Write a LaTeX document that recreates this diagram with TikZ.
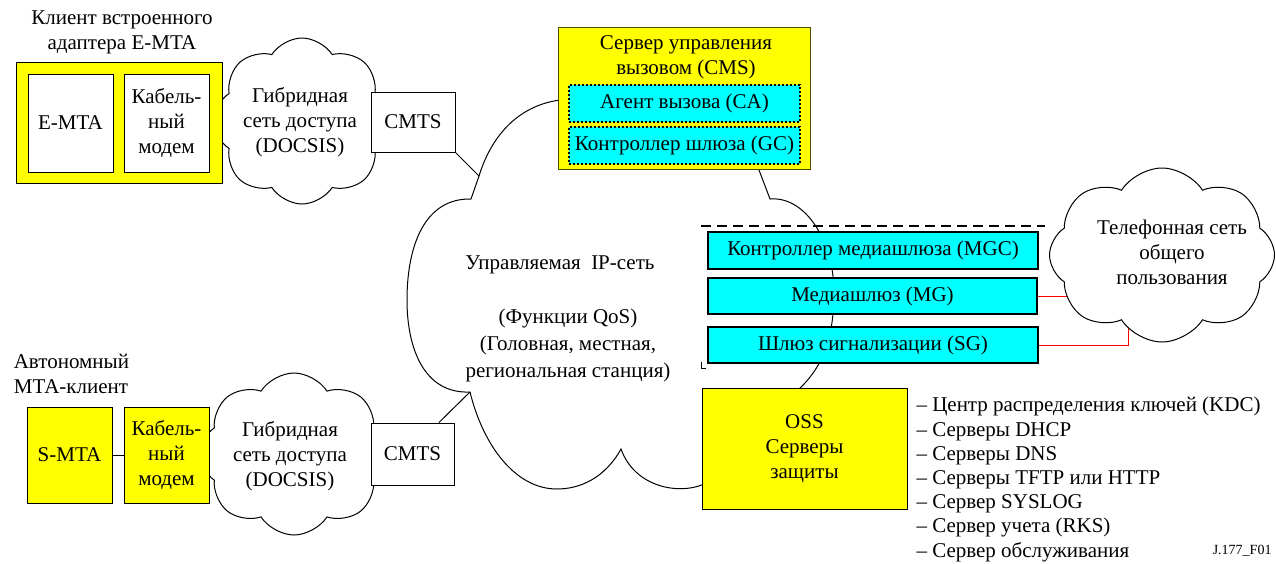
\documentclass[tikz,border=0pt]{standalone}
\usepackage{fontspec}
\setmainfont{Liberation Serif}
\usetikzlibrary{shapes.symbols}

\definecolor{boxyellow}{RGB}{255,255,0}
\definecolor{boxcyan}{RGB}{0,255,255}
\definecolor{tfred}{RGB}{255,0,0}

\tikzset{
  box/.style={draw, fill=white, line width=1pt, inner sep=0pt, align=center},
  ybox/.style={box, fill=boxyellow},
  cbox/.style={box, fill=boxcyan, line width=1.6pt},
  dbox/.style={box, fill=boxcyan, line width=1.4pt, dash pattern=on 2pt off 2pt},
  hfc/.style={cloud, draw, fill=white, line width=1pt, cloud puffs=8, cloud puff arc=115, aspect=1.05, inner sep=0pt},
}

\begin{document}
\begin{tikzpicture}[x=1pt, y=-1pt, line width=1pt, every node/.style={font=\fontsize{21}{25}\selectfont}]
\useasboundingbox (0,0) rectangle (1276,563);

\coordinate (ip1) at (479,176);
\coordinate (ip2) at (470,392);
\draw (471,199) -- (ip1) .. controls (490,140) and (515,106) .. (560,100) -- (700,60) -- (759,170)
  -- (770,199) .. controls (805,196) and (833,240) .. (834,290) .. controls (834,335) and (825,365) .. (798,390)
  -- (750,440) -- (704,484) .. controls (680,495) and (635,488) .. (621,449)
  .. controls (605,478) and (580,489) .. (557,489) .. controls (515,489) and (483,445) .. (ip2)
  .. controls (425,394) and (407,350) .. (407,300) .. controls (407,245) and (425,198) .. (471,199);
\node (IPt) at (560,265) {Управляемая\ \ IP-сеть};
\node (IPq) at (568,345) [align=center, font=\fontsize{21}{27}\selectfont] {(Функции QoS)\\(Головная, местная,\\региональная станция)};

\node (CL1) at (122,32.5) [align=center] {Клиент встроенного\\адаптера E-MTA};
\node (HFC1) at (302,121) [hfc, minimum width=176pt, minimum height=166pt] {};
\node (HFC1t) at (300,122) [align=center] {Гибридная\\сеть доступа\\(DOCSIS)};
\node (EC) at (119,122.5) [ybox, minimum width=206pt, minimum height=121pt] {};
\node (EMTA) at (70.5,123) [box, minimum width=85pt, minimum height=98pt] {E-MTA};
\node (CM1) at (166.5,123) [box, minimum width=85pt, minimum height=98pt] {Кабель-\\ный\\модем};
\node (CMTS1) at (413,122) [box, minimum width=84pt, minimum height=60pt] {CMTS};
\draw (CMTS1.south east) to (ip1);

\node (CL2) at (10,373.5) [anchor=west, align=left] {Автономный\\МТА-клиент};
\node (HFC2) at (294,454) [hfc, minimum width=188pt, minimum height=162pt] {};
\node (HFC2t) at (290,456) [align=center] {Гибридная\\сеть доступа\\(DOCSIS)};
\node (SMTA) at (69.5,455) [ybox, minimum width=85pt, minimum height=96pt] {S-MTA};
\node (CM2) at (166.5,455) [ybox, minimum width=85pt, minimum height=96pt] {Кабель-\\ный\\модем};
\node (CMTS2) at (412.5,454) [box, minimum width=83pt, minimum height=62pt] {CMTS};
\draw (SMTA) to (CM2);
\draw (CMTS2.50) to (ip2);

\node (CMS) at (684,98) [ybox, draw=black!70!boxyellow, minimum width=252pt, minimum height=142pt] {};
\node (CMSt) at (686,57.5) [align=center] {Сервер управления\\вызовом (CMS)};
\node (CA) at (684.5,103.5) [dbox, minimum width=231pt, minimum height=37pt] {Агент вызова (CA)};
\node (GC) at (684.5,145.5) [dbox, minimum width=231pt, minimum height=37pt] {Контроллер шлюза (GC)};

\draw[line width=2pt, dash pattern=on 10pt off 6pt] (701,226) -- (1045,226);
\draw (701,362) |- (706,368);
\node (MGC) at (873,250.5) [cbox, minimum width=330pt, minimum height=37pt] {Контроллер медиашлюза (MGC)};
\node (MG) at (872.5,296) [cbox, minimum width=329pt, minimum height=36pt] {Медиашлюз (MG)};
\node (SG) at (873,345) [cbox, minimum width=330pt, minimum height=36pt] {Шлюз сигнализации (SG)};

\coordinate (tf1) at (1110,296);
\coordinate (tf2) at (1128,315);
\draw[tfred] (MG.east) to (tf1);
\draw[tfred] (SG.east) -| (tf2);
\node (PSTN) at (1162,255) [hfc, minimum width=225pt, minimum height=174pt] {};
\node (PSTNt) at (1172,252) [align=center] {Телефонная сеть\\общего\\пользования};

\node (OSS) at (804.5,448.5) [ybox, minimum width=205pt, minimum height=121pt] {OSS\\Серверы\\защиты};
\node (LIST) at (916,479.5) [anchor=west, align=left, inner sep=0pt, font=\fontsize{21}{24.2}\selectfont] {– Центр распределения ключей (KDC)\\– Серверы DHCP\\– Серверы DNS\\– Серверы TFTP или HTTP\\– Сервер SYSLOG\\– Сервер учета (RKS)\\– Сервер обслуживания};
\node (FIG) at (1272,551) [anchor=east, inner sep=0pt, font=\fontsize{14}{16}\selectfont] {J.177\_F01};
\end{tikzpicture}
\end{document}
